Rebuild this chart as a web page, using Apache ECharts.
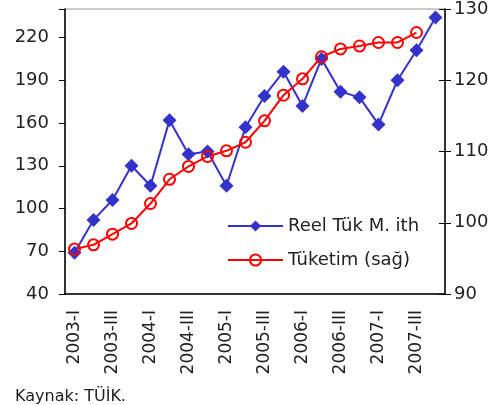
<!DOCTYPE html>
<html><head><meta charset="utf-8">
<script src="https://cdn.jsdelivr.net/npm/echarts@6/dist/echarts.min.js"></script>
<style>html,body{margin:0;padding:0;background:#fff}#c{width:503px;height:405px}</style>
</head><body><div id="c"></div>
<script>
const categories = ['2003-I','2003-II','2003-III','2003-IV','2004-I','2004-II','2004-III','2004-IV','2005-I','2005-II','2005-III','2005-IV','2006-I','2006-II','2006-III','2006-IV','2007-I','2007-II','2007-III','2007-IV'];
const reelTuk = [69,92,106,130,116,162,138,140,116,157,179,196,172,205,182,178,159,190,211,234];
const tuketim = [96.3,96.9,98.4,99.9,102.7,106.1,107.9,109.3,110.1,111.3,114.3,117.9,120.2,123.3,124.4,124.8,125.3,125.3,126.7,null];
const leftTicks = [40,70,100,130,160,190,220];
const rightTicks = [90,100,110,120,130];
const seriesNames = ['Reel Tük M. ith','Tüketim (sağ)'];
const sourceText = 'Kaynak: TÜİK.';

const FONT = 'DejaVu Sans';
const chart = echarts.init(document.getElementById('c'));
chart.setOption({
  animation: false,
  backgroundColor: '#fff',
  textStyle: {fontFamily: FONT},
  grid: {left: 65, right: 58, top: 9, bottom: 111, show: true, borderColor: '#999', borderWidth: 1},
  legend: {
    orient: 'vertical', left: 222, top: 212, itemWidth: 55, itemHeight: 14, itemGap: 16,
    textStyle: {fontFamily: FONT, fontSize: 18, color: '#222'},
    data: seriesNames
  },
  xAxis: {
    type: 'category', data: categories, boundaryGap: true,
    axisLine: {lineStyle: {color: '#000', width: 1.5}},
    axisTick: {interval: 0, length: 5, lineStyle: {color: '#000'}},
    axisLabel: {interval: 1, rotate: 90, margin: 16, fontFamily: FONT, fontSize: 17, color: '#222'}
  },
  yAxis: [
    {type: 'value', min: leftTicks[0], max: 240, interval: 30, position: 'left',
     axisLine: {show: true, lineStyle: {color: '#000', width: 1.5}},
     axisTick: {show: true, length: 6, lineStyle: {color: '#000'}},
     splitLine: {show: false},
     axisLabel: {margin: 16, fontFamily: FONT, fontSize: 18, color: '#222',
       formatter: v => leftTicks.includes(v) ? String(v) : ''}},
    {type: 'value', min: rightTicks[0], max: rightTicks[rightTicks.length-1], interval: 10, position: 'right',
     axisLine: {show: true, lineStyle: {color: '#000', width: 1.5}},
     axisTick: {show: true, length: 6, lineStyle: {color: '#000'}},
     splitLine: {show: false},
     axisLabel: {margin: 9, fontFamily: FONT, fontSize: 18, color: '#222'}},
    {type: 'value', min: rightTicks[0], max: rightTicks[rightTicks.length-1], interval: 10, position: 'right',
     axisLine: {show: false}, axisLabel: {show: false}, splitLine: {show: false},
     axisTick: {show: true, inside: true, length: 6, lineStyle: {color: '#000'}}}
  ],
  series: [
    {name: seriesNames[0], type: 'line', yAxisIndex: 0, data: reelTuk,
     symbol: 'diamond', symbolSize: 14, showAllSymbol: true,
     lineStyle: {color: '#3333cc', width: 2}, itemStyle: {color: '#3333cc'}},
    {name: seriesNames[1], type: 'line', yAxisIndex: 1, data: tuketim,
     symbol: 'circle', symbolSize: 11, z: 3, showAllSymbol: true,
     lineStyle: {color: '#ff0000', width: 2},
     itemStyle: {color: 'rgba(255,255,255,0)', borderColor: '#ff0000', borderWidth: 2}}
  ],
  graphic: [{type: 'text', left: 15, top: 389,
    style: {text: sourceText, fontFamily: FONT, fontSize: 16, fill: '#222'}}]
});
</script></body></html>
